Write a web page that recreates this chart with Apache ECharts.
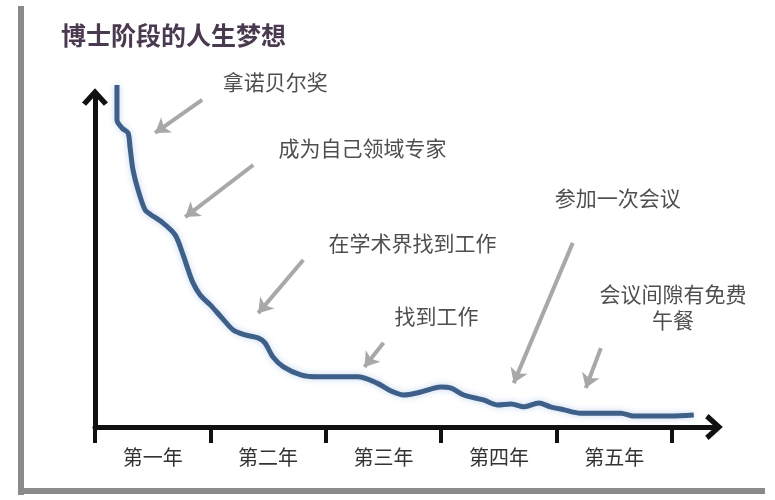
<!DOCTYPE html>
<html><head><meta charset="utf-8">
<script src="https://cdn.jsdelivr.net/npm/echarts@6/dist/echarts.min.js"></script>
<style>html,body{margin:0;padding:0;background:#fff}#c{width:775px;height:500px}</style>
</head><body><div id="c"></div>
<script>
const titleText = '博士阶段的人生梦想';
const yearLabels = ['第一年', '第二年', '第三年', '第四年', '第五年'];
// curve: time (years) and dream level (0-100)
const curveX = [0.19,0.19,0.234,0.286,0.303,0.329,0.373,0.433,0.477,0.589,0.693,0.763,0.806,0.849,0.91,0.997,1.10,1.196,1.30,1.41,1.47,1.54,1.63,1.78,1.92,2.27,2.44,2.56,2.67,2.82,2.99,3.08,3.19,3.36,3.48,3.60,3.71,3.84,3.94,4.06,4.20,4.55,4.66,4.98,5.18];
const curveY = [103.6,93.0,90.6,89.1,84.8,77.9,71.8,65.8,64.5,61.8,58.2,52.1,47.6,43.6,40.0,37.0,33.0,29.4,27.9,27.0,25.5,21.2,18.2,15.8,15.2,15.2,13.3,10.9,9.7,10.6,12.1,11.8,9.7,8.2,6.7,7.0,6.1,7.3,6.1,5.2,4.2,4.2,3.3,3.3,3.6];
// annotations
const noteTexts = ['拿诺贝尔奖', '成为自己领域专家', '在学术界找到工作', '找到工作', '参加一次会议', '会议间隙有免费\n午餐'];
const noteX = [1.56, 2.314, 2.747, 2.955, 4.523, 5.0];
const noteY = [104.5, 84.5, 55.8, 33.6, 69.4, 36.4];
const arrowFromX = [0.927, 1.369, 1.802, 2.496, 4.133, 4.376];
const arrowFromY = [99.1, 79.4, 50.6, 25.5, 55.8, 23.9];
const arrowToX = [0.52, 0.78, 1.412, 2.331, 3.622, 4.246];
const arrowToY = [89.1, 63.6, 34.5, 18.2, 13.3, 11.8];

const FONT = '"Noto Sans CJK SC", sans-serif';
const chevron = 'path://M50,0 L100,55 L84,68 L50,30 L16,68 L0,55 Z';

const chart = echarts.init(document.getElementById('c'), null, {renderer: 'canvas'});
chart.setOption({
  backgroundColor: '#fff',
  animation: false,
  title: {
    text: titleText, left: 56, top: 18,
    textStyle: {fontFamily: FONT, fontSize: 25, fontWeight: 'bold', color: '#4a3a50'}
  },
  graphic: [
    {type: 'rect', shape: {x: 18, y: 6, width: 6, height: 489}, style: {fill: '#8a8a8a'}, silent: true},
    {type: 'rect', shape: {x: 18, y: 488, width: 747, height: 6}, style: {fill: '#8a8a8a'}, silent: true}
  ],
  grid: [
    {left: 95, right: 61, top: 97, bottom: 73},
    {left: 95, right: 103, top: 97, bottom: 73}
  ],
  xAxis: [
    {type: 'value', gridIndex: 0, min: 0, max: 5.355,
     axisLine: {show: true, symbol: ['none', chevron], symbolSize: [26, 20], lineStyle: {color: '#111', width: 5}},
     axisTick: {show: false}, axisLabel: {show: false}, splitLine: {show: false}},
    {type: 'category', gridIndex: 1, data: yearLabels, boundaryGap: true,
     axisLine: {show: false},
     axisTick: {show: true, length: 16, lineStyle: {color: '#111', width: 4}},
     axisLabel: {margin: 20, fontFamily: FONT, fontSize: 20, color: '#333'},
     splitLine: {show: false}}
  ],
  yAxis: [
    {type: 'value', gridIndex: 0, min: 0, max: 100,
     axisLine: {show: true, symbol: ['none', chevron], symbolSize: [26, 20], lineStyle: {color: '#111', width: 5}},
     axisTick: {show: false}, axisLabel: {show: false}, splitLine: {show: false}},
    {type: 'value', gridIndex: 1, show: false}
  ],
  series: [
    {type: 'line', xAxisIndex: 0, yAxisIndex: 0, clip: false,
     data: curveX.map((x, i) => [x, curveY[i]]),
     smooth: 0.3, showSymbol: false,
     lineStyle: {color: '#3e5f88', width: 5, shadowColor: 'rgba(120,160,220,0.45)', shadowBlur: 6}},
    {type: 'lines', coordinateSystem: 'cartesian2d', xAxisIndex: 0, yAxisIndex: 0, silent: true,
     symbol: ['none', 'arrow'], symbolSize: 14,
     lineStyle: {color: '#a8a8a8', width: 4, opacity: 1, curveness: 0},
     data: arrowFromX.map((x, i) => ({coords: [[x, arrowFromY[i]], [arrowToX[i], arrowToY[i]]]}))},
    {type: 'scatter', xAxisIndex: 0, yAxisIndex: 0, clip: false, silent: true, symbolSize: 0,
     data: noteTexts.map((t, i) => ({name: t, value: [noteX[i], noteY[i]]})),
     label: {show: true, position: 'inside', formatter: '{b}', fontFamily: FONT, fontSize: 21,
             color: '#222', lineHeight: 26, align: 'center', verticalAlign: 'middle'}}
  ]
});
</script></body></html>
